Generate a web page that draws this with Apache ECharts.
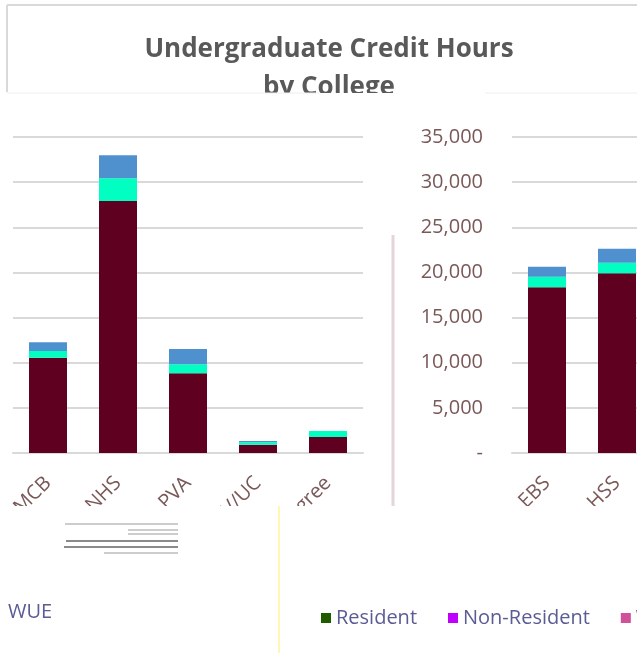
<!DOCTYPE html>
<html>
<head>
<meta charset="utf-8">
<script src="https://cdn.jsdelivr.net/npm/echarts@6/dist/echarts.min.js"></script>
<style>
  html, body { margin: 0; padding: 0; background: #fff; }
  #chart1 { width: 637px; height: 653px; }
</style>
</head>
<body>
<div id="chart1"></div>
<script>
// colleges, in chart order (the picture is wrapped: EBS/HSS show on the right)
var colleges = ['EBS', 'HSS', 'MCB', 'NHS', 'PVA', 'UNIV/UC', 'Non-Degree'];
var resident = [18350, 19900, 10550, 27900, 8830, 920, 1770];
var nonResident = [1180, 1180, 750, 2530, 1000, 265, 670];
var wue = [1110, 1550, 960, 2540, 1700, 145, 0];
var yTicks = [0, 5000, 10000, 15000, 20000, 25000, 30000, 35000];

var barColors = ['#600020', '#00ffc0', '#4f90cf'];
var legendColors = ['#1f5c00', '#c000ff', '#d0509a'];
var seriesNames = ['Resident', 'Non-Resident', 'WUE'];
var seriesValues = [resident, nonResident, wue];

void function () {
    var myChart = echarts.init(document.getElementById('chart1'));
    var labelFont = 'Open Sans';
    var axisText = '#7a5858';

    function makeX(gridIndex, min, max) {
        return {
            type: 'category',
            gridIndex: gridIndex,
            data: colleges,
            min: min,
            max: max,
            axisTick: { show: false },
            axisLine: { lineStyle: { color: '#d9d9d9', width: 2 } },
            axisLabel: {
                rotate: 45,
                interval: 0,
                margin: 27,
                fontSize: 20,
                fontFamily: labelFont,
                color: axisText
            }
        };
    }
    function makeY(gridIndex, showLabel) {
        return {
            type: 'value',
            gridIndex: gridIndex,
            min: yTicks[0],
            max: yTicks[yTicks.length - 1],
            interval: 5000,
            axisLine: { show: false },
            axisTick: { show: false },
            splitLine: { lineStyle: { color: '#d9d9d9', width: 2 } },
            axisLabel: {
                show: showLabel,
                margin: 29,
                fontSize: 20,
                fontFamily: labelFont,
                color: axisText,
                formatter: function (v) {
                    return v === 0 ? '-' : v.toLocaleString('en-US');
                }
            }
        };
    }

    var series = [];
    [0, 1].forEach(function (g) {
        for (var i = 0; i < seriesNames.length; i++) {
            series.push({
                name: seriesNames[i],
                type: 'bar',
                stack: 'total' + g,
                xAxisIndex: g,
                yAxisIndex: g,
                barWidth: 38,
                itemStyle: { color: barColors[i] },
                data: seriesValues[i]
            });
        }
    });

    var option = {
        animation: false,
        title: {
            text: 'Undergraduate Credit Hours\nby College',
            left: 324,
            textAlign: 'center',
            top: 26,
            textStyle: {
                fontFamily: labelFont,
                fontSize: 26,
                fontWeight: 'bold',
                color: '#595959',
                lineHeight: 38
            }
        },
        legend: {
            left: 316,
            top: 603,
            width: 500,
            itemWidth: 10,
            itemHeight: 10,
            itemGap: 31,
            icon: 'rect',
            textStyle: { fontSize: 20, fontFamily: labelFont, color: '#5b5b95' },
            data: seriesNames.map(function (n, i) {
                return { name: n, itemStyle: { color: legendColors[i] } };
            })
        },
        grid: [
            { left: 13, top: 137, width: 350, height: 316, outerBoundsMode: 'none' },
            { left: 512, top: 137, width: 490, height: 316, outerBoundsMode: 'none' }
        ],
        xAxis: [makeX(0, 2, 6), makeX(1, 0, 6)],
        yAxis: [makeY(0, false), makeY(1, true)],
        series: series,
        graphic: [
            // chart-area border round the title
            { type: 'line', z: 50, shape: { x1: 7, y1: 5, x2: 637, y2: 5 }, style: { stroke: '#d9d9d9', lineWidth: 2 } },
            { type: 'line', z: 50, shape: { x1: 7, y1: 5, x2: 7, y2: 92 }, style: { stroke: '#d9d9d9', lineWidth: 2 } },
            // cut-off bands of the wrapped picture
            { type: 'rect', z: 100, shape: { x: 0, y: 93, width: 637, height: 34 }, style: { fill: '#fff' } },
            { type: 'line', z: 101, shape: { x1: 7, y1: 93, x2: 320, y2: 93 }, style: { stroke: '#eeeeee', lineWidth: 1 } },
            { type: 'line', z: 101, shape: { x1: 485, y1: 93, x2: 637, y2: 93 }, style: { stroke: '#eeeeee', lineWidth: 1 } },
            { type: 'rect', z: 100, shape: { x: 0, y: 506, width: 637, height: 84 }, style: { fill: '#fff' } },
            { type: 'line', z: 101, shape: { x1: 393, y1: 235, x2: 393, y2: 506 }, style: { stroke: '#e2d6d6', lineWidth: 3 } },
            { type: 'line', z: 101, shape: { x1: 279, y1: 506, x2: 279, y2: 653 }, style: { stroke: '#fff59a', lineWidth: 1.5 } },
            { type: 'line', z: 101, shape: { x1: 65, y1: 524, x2: 178, y2: 524 }, style: { stroke: '#9a9a9a', lineWidth: 1 } },
            { type: 'line', z: 101, shape: { x1: 128, y1: 530, x2: 178, y2: 530 }, style: { stroke: '#9a9a9a', lineWidth: 1 } },
            { type: 'line', z: 101, shape: { x1: 128, y1: 534, x2: 178, y2: 534 }, style: { stroke: '#9a9a9a', lineWidth: 1 } },
            { type: 'line', z: 101, shape: { x1: 66, y1: 541, x2: 178, y2: 541 }, style: { stroke: '#8a8a8a', lineWidth: 2 } },
            { type: 'line', z: 101, shape: { x1: 64, y1: 547, x2: 178, y2: 547 }, style: { stroke: '#8a8a8a', lineWidth: 2 } },
            { type: 'line', z: 101, shape: { x1: 104, y1: 553, x2: 178, y2: 553 }, style: { stroke: '#9a9a9a', lineWidth: 1 } },
            {
                type: 'text', z: 101, left: 8, top: 602,
                style: { text: 'WUE', fontSize: 20, fontFamily: labelFont, fill: '#5b5b95' }
            }
        ]
    };

    myChart.setOption(option);
}();
</script>
</body>
</html>
